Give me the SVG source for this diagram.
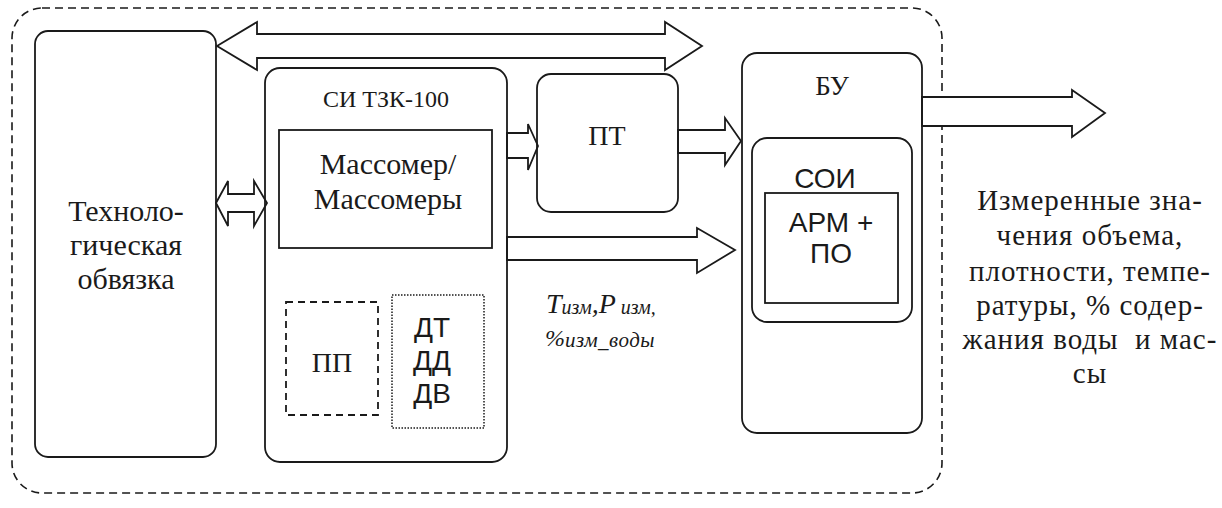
<svg xmlns="http://www.w3.org/2000/svg" width="1222" height="508" viewBox="0 0 1222 508">
<style>
.box{fill:none;stroke:#1a1a1a;stroke-width:1.8}
.arr{fill:#fff;stroke:#1a1a1a;stroke-width:1.8;stroke-linejoin:miter}
.serif{font-family:"Liberation Serif","Times New Roman",serif;fill:#1a1a1a}
.sans{font-family:"Liberation Sans",Arial,sans-serif;fill:#1a1a1a}
.it{font-family:"Liberation Serif","Times New Roman",serif;font-style:italic;fill:#1a1a1a}
</style>
<rect width="1222" height="508" fill="#fff"/>
<g id="boundary">
<rect x="12" y="8" width="930" height="485" rx="30" fill="none" stroke="#1a1a1a" stroke-width="1.6" stroke-dasharray="8 5"/>
</g>
<g id="connectors">
<polygon class="arr" points="217,46 257,22 257,34 665,34 665,22 702,46 665,70 665,58 257,58 257,70"/>
<polygon class="arr" points="216,203 228,181 228,194 254,194 254,181 267,203 254,226 254,212 228,212 228,226"/>
<polygon class="arr" points="507,133 528,133 528,124 538,146 528,170 528,158 507,158"/>
<polygon class="arr" points="678,130 725,130 725,118 741,141 725,165 725,153 678,153"/>
<polygon class="arr" points="507,237 697,237 697,228 735,250 697,273 697,260 507,260"/>
<polygon class="arr" points="922,97 1072,97 1072,90 1105,113 1072,137 1072,126 922,126"/>
</g>
<g id="tech">
<rect class="box" x="35" y="31" width="181" height="426" rx="13" fill="#fff"/>
<text class="serif" font-size="30" text-anchor="middle"><tspan x="126" y="221">Техноло-</tspan><tspan x="126" y="255">гическая</tspan><tspan x="126" y="289">обвязка</tspan></text>
</g>
<g id="si">
<rect class="box" x="265" y="68" width="242" height="394" rx="15" fill="#fff"/>
<text class="serif" font-size="24" x="386" y="107" text-anchor="middle">СИ ТЗК-100</text>
</g>
<g id="massomer">
<rect class="box" x="279" y="130" width="213" height="118"/>
<text class="serif" font-size="30" text-anchor="middle"><tspan x="388" y="174">Массомер/</tspan><tspan x="388" y="209">Массомеры</tspan></text>
</g>
<g id="pp">
<rect x="286" y="302" width="92" height="113" fill="none" stroke="#1a1a1a" stroke-width="1.8" stroke-dasharray="7 5"/>
<text class="serif" font-size="28" x="332" y="372" text-anchor="middle">ПП</text>
</g>
<g id="sensors">
<rect x="392" y="295" width="92" height="133" fill="none" stroke="#1a1a1a" stroke-width="1.5" stroke-dasharray="1.5 1.5"/>
<text class="sans" font-size="28" text-anchor="middle"><tspan x="432" y="337">ДТ</tspan><tspan x="432" y="370">ДД</tspan><tspan x="432" y="403">ДВ</tspan></text>
</g>
<g id="pt">
<rect class="box" x="537" y="74" width="141" height="138" rx="14" fill="#fff"/>
<text class="serif" font-size="28" x="607" y="145" text-anchor="middle">ПТ</text>
</g>
<g id="bu">
<rect class="box" x="742" y="53" width="180" height="380" rx="15" fill="#fff"/>
<text class="serif" font-size="27" x="832" y="95" text-anchor="middle">БУ</text>
</g>
<g id="soi">
<rect class="box" x="752" y="138" width="160" height="184" rx="15"/>
<text class="sans" font-size="28" x="825" y="188" text-anchor="middle">СОИ</text>
</g>
<g id="arm">
<rect class="box" x="765" y="193" width="133" height="110"/>
<text class="sans" font-size="28" text-anchor="middle"><tspan x="831" y="232">АРМ +</tspan><tspan x="831" y="263">ПО</tspan></text>
</g>
<g id="label-sensors">
<text class="it" font-size="28" x="546" y="313">T<tspan font-size="20" dy="1">изм</tspan><tspan dy="-1">,P</tspan><tspan font-size="20" dx="5" dy="1">изм,</tspan></text>
<text class="it" x="545" y="346"><tspan font-size="24">%</tspan><tspan font-size="21" dy="1" letter-spacing="0.5">изм_воды</tspan></text>
</g>
<g id="label-output">
<text class="serif" font-size="29" letter-spacing="1" text-anchor="middle" xml:space="preserve"><tspan x="1090" y="210">Измеренные зна-</tspan><tspan x="1090" y="245">чения объема,</tspan><tspan x="1090" y="281">плотности, темпе-</tspan><tspan x="1090" y="315">ратуры, % содер-</tspan><tspan x="1090" y="349">жания воды  и мас-</tspan><tspan x="1090" y="383">сы</tspan></text>
</g>
</svg>
